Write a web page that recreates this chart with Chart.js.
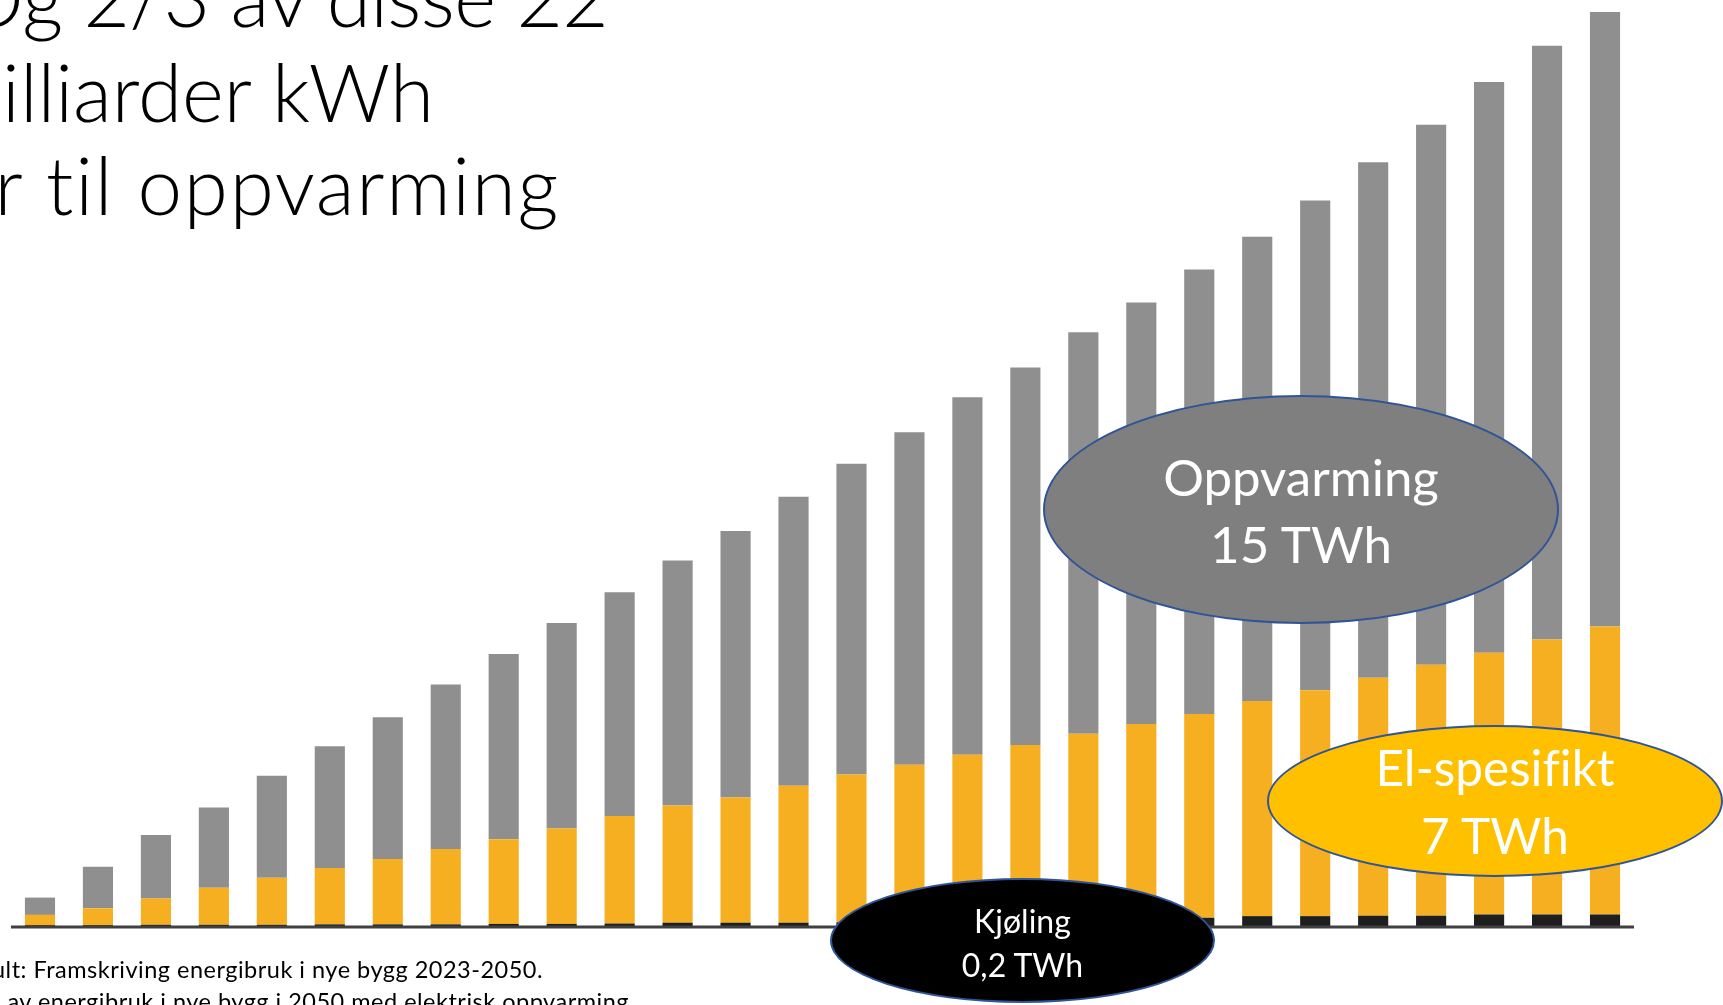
<!DOCTYPE html>
<html>
<head>
<meta charset="utf-8">
<script src="https://cdn.jsdelivr.net/npm/chart.js@4/dist/chart.umd.min.js"></script>
<style>
  html, body { margin: 0; padding: 0; background: #fff; overflow: hidden; }
  #wrap { position: relative; width: 1723px; height: 1005px; overflow: hidden; font-family: Lato, "Open Sans", sans-serif;
          font-variant-ligatures: none; }
  #wrap canvas { position: absolute; left: 0; top: 0; }
  .line { position: absolute; white-space: nowrap; text-align: right; color: #000; }
  .title { font-weight: 300; font-size: 80px; line-height: 94px; }
  .note { font-size: 23.5px; line-height: 26px; letter-spacing: 0.5px; }
  .oval { position: absolute; box-sizing: border-box; border: 2.5px solid #2f5597; border-radius: 50%;
          display: flex; align-items: center; justify-content: center; text-align: center; color: #fff; }
</style>
</head>
<body>
<div id="wrap">
  <canvas id="energyChart"></canvas>

  <div class="line title" style="right:1115px; top:-51px; letter-spacing:-0.6px;">Og 2/3 av disse 22</div>
  <div class="line title" style="right:1289px; top:44px;">milliarder kWh</div>
  <div class="line title" style="right:1163px; top:137px; letter-spacing:1.7px;">er til oppvarming</div>

  <div class="line note" style="right:1180px; top:956px;">Multiconsult: Framskriving energibruk i nye bygg 2023-2050.</div>
  <div class="line note" style="right:1094px; top:988px;">Fordeling av energibruk i nye bygg i 2050 med elektrisk oppvarming</div>

  <div class="oval" style="left:1043px; top:395px; width:516px; height:229px; background:#7f7f7f; font-size:51px; line-height:67px;">Oppvarming<br>15 TWh</div>
  <div class="oval" style="left:1267px; top:725px; width:456px; height:152px; background:#ffc000; font-size:49.5px; line-height:68px;">El-spesifikt<br>7 TWh</div>
  <div class="oval" style="left:830px; top:878px; width:385px; height:125px; background:#000; font-size:32px; line-height:44px; padding-top:5px;">Kjøling<br>0,2 TWh</div>
</div>

<script>
// år 2023-2050
const years = [];
for (let y = 2023; y <= 2050; y++) years.push(String(y));

// TWh, lest av figuren
const kjoling = [0.02, 0.02, 0.03, 0.03, 0.03, 0.04, 0.04, 0.04, 0.05, 0.05,
                 0.06, 0.08, 0.08, 0.08, 0.09, 0.10, 0.12, 0.14, 0.16, 0.18,
                 0.20, 0.24, 0.24, 0.25, 0.25, 0.28, 0.28, 0.28];
const elSpesifikt = [0.25, 0.41, 0.64, 0.90, 1.14, 1.37, 1.59, 1.83, 2.06, 2.32,
                     2.61, 2.85, 3.04, 3.33, 3.59, 3.82, 4.04, 4.26, 4.51, 4.73,
                     4.95, 5.23, 5.49, 5.78, 6.10, 6.36, 6.68, 7.00];
const oppvarming = [0.42, 1.01, 1.54, 1.95, 2.48, 2.96, 3.44, 4.00, 4.50, 4.99,
                    5.44, 5.95, 6.48, 7.02, 7.55, 8.08, 8.69, 9.17, 9.76, 10.24,
                    10.80, 11.28, 11.90, 12.53, 13.12, 13.87, 14.43, 14.93];

// x-aksen som en tykk mørk strek
const axisLine = {
  id: 'axisLine',
  afterDatasetsDraw(chart) {
    const ctx = chart.ctx;
    const a = chart.chartArea;
    const y0 = chart.scales.y.getPixelForValue(0) + 1;
    ctx.save();
    ctx.strokeStyle = '#404040';
    ctx.lineWidth = 3;
    ctx.beginPath();
    ctx.moveTo(a.left, y0);
    ctx.lineTo(a.right, y0);
    ctx.stroke();
    ctx.restore();
  }
};

const ctx = document.getElementById('energyChart').getContext('2d');
const chart = new Chart(ctx, {
  type: 'bar',
  data: {
    labels: years,
    datasets: [
      { label: 'Kjøling', data: kjoling, backgroundColor: '#1e1e1e' },
      { label: 'El-spesifikt', data: elSpesifikt, backgroundColor: '#f7af22' },
      { label: 'Oppvarming', data: oppvarming, backgroundColor: '#8f8f8f' }
    ]
  },
  options: {
    responsive: true,
    maintainAspectRatio: false,
    animation: false,
    layout: { padding: { left: 11, right: 89, top: 0, bottom: 79 } },
    datasets: { bar: { barPercentage: 0.52, categoryPercentage: 1 } },
    plugins: { legend: { display: false }, tooltip: { enabled: false } },
    scales: {
      x: { stacked: true, display: false },
      y: { stacked: true, display: false, min: 0, max: 22.5 }
    }
  },
  plugins: [axisLine]
});
</script>
</body>
</html>
